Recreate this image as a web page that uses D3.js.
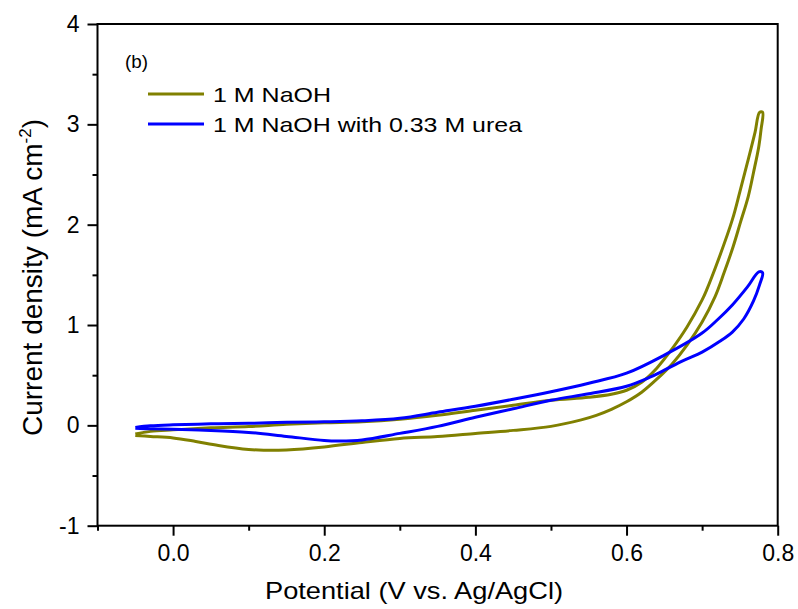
<!DOCTYPE html>
<html>
<head>
<meta charset="utf-8">
<script src="https://cdn.jsdelivr.net/npm/d3@7"></script>
<style>
  body { margin: 0; background: #fff; }
  text { font-family: Arial, "Liberation Sans", sans-serif; fill: #000; }
</style>
</head>
<body>
<script>
// valores (potencial en V, corriente en mA cm-2)
// barrido de ida y de vuelta, uno detras del otro
const naohV = [-0.05, -0.03, 0.0, 0.05, 0.10, 0.15, 0.20, 0.25, 0.30, 0.35, 0.40, 0.45, 0.50, 0.55, 0.58, 0.60, 0.62, 0.64, 0.66, 0.68, 0.70, 0.706, 0.72, 0.74, 0.75, 0.76, 0.77, 0.776,
               0.78, 0.778, 0.775, 0.768, 0.761, 0.751, 0.741, 0.729, 0.717, 0.70, 0.68, 0.66, 0.64, 0.62, 0.60, 0.58, 0.56, 0.54, 0.50, 0.45, 0.40, 0.35, 0.30, 0.25, 0.20, 0.15, 0.12, 0.10, 0.06, 0.03, 0.0, -0.03, -0.05];
const naohI = [-0.085, -0.06, -0.045, -0.025, -0.012, 0.01, 0.025, 0.035, 0.06, 0.10, 0.15, 0.20, 0.25, 0.28, 0.31, 0.35, 0.43, 0.57, 0.76, 0.98, 1.25, 1.35, 1.62, 2.05, 2.33, 2.62, 2.92, 3.12,
               3.12, 2.95, 2.78, 2.52, 2.28, 2.03, 1.78, 1.52, 1.28, 1.03, 0.80, 0.61, 0.46, 0.33, 0.235, 0.16, 0.10, 0.055, -0.01, -0.05, -0.08, -0.11, -0.13, -0.17, -0.215, -0.245, -0.248, -0.24, -0.20, -0.16, -0.125, -0.11, -0.10];

const ureaV = [-0.05, -0.03, 0.0, 0.05, 0.10, 0.15, 0.20, 0.25, 0.30, 0.35, 0.40, 0.45, 0.50, 0.55, 0.60, 0.65, 0.70, 0.72, 0.74, 0.76, 0.775,
               0.78, 0.776, 0.768, 0.755, 0.74, 0.724, 0.70, 0.675, 0.65, 0.631, 0.60, 0.55, 0.50, 0.45, 0.40, 0.35, 0.30, 0.25, 0.22, 0.20, 0.15, 0.10, 0.05, 0.0, -0.03, -0.05];
const ureaI = [-0.02, -0.005, 0.005, 0.015, 0.02, 0.03, 0.035, 0.045, 0.07, 0.13, 0.19, 0.26, 0.335, 0.42, 0.52, 0.70, 0.92, 1.05, 1.20, 1.38, 1.53,
               1.52, 1.40, 1.24, 1.06, 0.93, 0.84, 0.73, 0.645, 0.55, 0.48, 0.39, 0.315, 0.25, 0.165, 0.08, -0.01, -0.08, -0.145, -0.155, -0.15, -0.11, -0.07, -0.05, -0.04, -0.035, -0.03];

const seriesNames = ['1 M NaOH', '1 M NaOH with 0.33 M urea'];
const seriesColors = ['#808000', '#0000ff'];

const xMajor = [0.0, 0.2, 0.4, 0.6, 0.8];
const xMinor = [-0.1, 0.1, 0.3, 0.5, 0.7];
const yMajor = [-1, 0, 1, 2, 3, 4];
const yMinor = [-0.5, 0.5, 1.5, 2.5, 3.5];

const W = 798, H = 609;
const plot = { left: 97.5, right: 777.7, top: 24, bottom: 525.7 };

const svg = d3.select('body').append('svg')
    .attr('width', W)
    .attr('height', H);

const x = d3.scaleLinear().domain([-0.1, 0.8]).range([plot.left, plot.right]);
const y = d3.scaleLinear().domain([-1, 4]).range([plot.bottom, plot.top]);

// curvas
const series = [
    naohV.map((v, i) => [v, naohI[i]]),
    ureaV.map((v, i) => [v, ureaI[i]])
];

const line = d3.line()
    .x(d => x(d[0]))
    .y(d => y(d[1]))
    .curve(d3.curveCatmullRom.alpha(0.5));

svg.append('g')
    .selectAll('path')
    .data(series)
    .enter()
    .append('path')
    .attr('d', line)
    .attr('fill', 'none')
    .attr('stroke', (d, i) => seriesColors[i])
    .attr('stroke-width', 3)
    .attr('stroke-linejoin', 'round');

// ejes
function styleAxis(g) {
    g.selectAll('.domain').remove();
    g.selectAll('line').attr('stroke', '#000').attr('stroke-width', 2);
    g.selectAll('text').style('font-size', '23px');
}

svg.append('g')
    .attr('transform', 'translate(0,' + plot.bottom + ')')
    .call(d3.axisBottom(x).tickValues(xMajor).tickSize(10).tickPadding(9).tickFormat(d3.format('.1f')))
    .call(styleAxis);

svg.append('g')
    .attr('transform', 'translate(0,' + plot.bottom + ')')
    .call(d3.axisBottom(x).tickValues(xMinor).tickSize(5).tickFormat(''))
    .call(styleAxis);

svg.append('g')
    .attr('transform', 'translate(' + plot.left + ',0)')
    .call(d3.axisLeft(y).tickValues(yMajor).tickSize(10).tickPadding(8).tickFormat(d => String(d)))
    .call(styleAxis);

svg.append('g')
    .attr('transform', 'translate(' + plot.left + ',0)')
    .call(d3.axisLeft(y).tickValues(yMinor).tickSize(5).tickFormat(''))
    .call(styleAxis);

// marco
svg.append('rect')
    .attr('x', plot.left)
    .attr('y', plot.top)
    .attr('width', plot.right - plot.left)
    .attr('height', plot.bottom - plot.top)
    .attr('fill', 'none')
    .attr('stroke', '#000')
    .attr('stroke-width', 2);

// titulos de ejes
svg.append('text')
    .attr('x', 265)
    .attr('y', 599)
    .attr('textLength', 298)
    .attr('lengthAdjust', 'spacingAndGlyphs')
    .style('font-size', '24px')
    .text('Potential (V vs. Ag/AgCl)');

const yTitle = svg.append('text')
    .attr('transform', 'translate(42,436) rotate(-90)')
    .style('font-size', '28px');
yTitle.append('tspan').text('Current density (mA cm');
yTitle.append('tspan').attr('dy', -11).style('font-size', '17px').text('-2');
yTitle.append('tspan').attr('dy', 11).text(')');

// leyenda
svg.append('text')
    .attr('x', 125)
    .attr('y', 68)
    .attr('textLength', 23)
    .attr('lengthAdjust', 'spacingAndGlyphs')
    .style('font-size', '18px')
    .text('(b)');

const legendWidths = [118, 309];

const legend = svg.append('g')
    .selectAll('g')
    .data(seriesNames)
    .enter()
    .append('g')
    .attr('transform', (d, i) => 'translate(148,' + (94 + i * 30) + ')');

legend.append('line')
    .attr('x1', 0)
    .attr('x2', 56)
    .attr('stroke', (d, i) => seriesColors[i])
    .attr('stroke-width', 3);

legend.append('text')
    .attr('x', 65)
    .attr('y', 7.5)
    .attr('textLength', (d, i) => legendWidths[i])
    .attr('lengthAdjust', 'spacingAndGlyphs')
    .style('font-size', '21px')
    .text(d => d);
</script>
</body>
</html>
